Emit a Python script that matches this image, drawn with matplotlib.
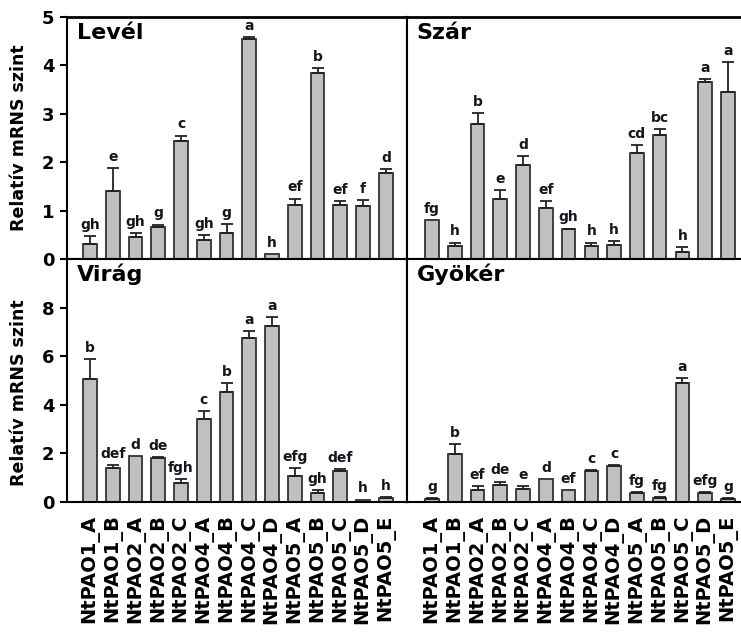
import numpy as np
import matplotlib
matplotlib.use("Agg")
import matplotlib.pyplot as plt

# gene names on the x axis
genes = ["NtPAO1_A", "NtPAO1_B", "NtPAO2_A", "NtPAO2_B", "NtPAO2_C",
         "NtPAO4_A", "NtPAO4_B", "NtPAO4_C", "NtPAO4_D", "NtPAO5_A",
         "NtPAO5_B", "NtPAO5_C", "NtPAO5_D", "NtPAO5_E"]

# leaf
level_vals = [0.30, 1.41, 0.46, 0.66, 2.44, 0.40, 0.54, 4.54, 0.10, 1.12, 3.85, 1.12, 1.09, 1.78]
level_err = [0.18, 0.47, 0.08, 0.05, 0.11, 0.10, 0.18, 0.05, 0.0, 0.13, 0.10, 0.08, 0.13, 0.075]
level_letters = ["gh", "e", "gh", "g", "c", "gh", "g", "a", "h", "ef", "b", "ef", "f", "d"]

# stem
szar_vals = [0.80, 0.26, 2.79, 1.25, 1.94, 1.06, 0.61, 0.26, 0.29, 2.20, 2.57, 0.15, 3.66, 3.45]
szar_err = [0.0, 0.08, 0.23, 0.18, 0.19, 0.13, 0.02, 0.08, 0.08, 0.16, 0.11, 0.09, 0.05, 0.62]
szar_letters = ["fg", "h", "b", "e", "d", "ef", "gh", "h", "h", "cd", "bc", "h", "a", "a"]

# flower
virag_vals = [5.06, 1.38, 1.89, 1.82, 0.79, 3.41, 4.54, 6.74, 7.26, 1.07, 0.38, 1.26, 0.10, 0.16]
virag_err = [0.82, 0.15, 0.0, 0.03, 0.15, 0.33, 0.36, 0.30, 0.36, 0.31, 0.10, 0.11, 0.0, 0.04]
virag_letters = ["b", "def", "d", "de", "fgh", "c", "b", "a", "a", "efg", "gh", "def", "h", "h"]

# root
gyoker_vals = [0.12, 1.96, 0.48, 0.68, 0.55, 0.96, 0.48, 1.26, 1.49, 0.38, 0.16, 4.88, 0.38, 0.11]
gyoker_err = [0.03, 0.41, 0.16, 0.16, 0.09, 0.0, 0.0, 0.04, 0.04, 0.03, 0.04, 0.22, 0.03, 0.04]
gyoker_letters = ["g", "b", "ef", "de", "e", "d", "ef", "c", "c", "fg", "fg", "a", "efg", "g"]

panels = [
    ("Levél", level_vals, level_err, level_letters),
    ("Szár", szar_vals, szar_err, szar_letters),
    ("Virág", virag_vals, virag_err, virag_letters),
    ("Gyökér", gyoker_vals, gyoker_err, gyoker_letters),
]

fig = plt.figure(figsize=(7.41, 6.32), dpi=100)

W, H = 741.0, 632.0
boxes = [
    [67 / W, (H - 259) / H, 340 / W, 242 / H],
    [407 / W, (H - 259) / H, 340 / W, 242 / H],
    [67 / W, (H - 502) / H, 340 / W, 243 / H],
    [407 / W, (H - 502) / H, 340 / W, 243 / H],
]

x = np.arange(len(genes))

for i, (title, vals, err, letters) in enumerate(panels):
    ax = fig.add_axes(boxes[i])
    vals = np.array(vals)
    err = np.array(err)

    ax.bar(x, vals, width=0.6, color="#c0c0c0", edgecolor="#333333", linewidth=1.3, zorder=2)

    has_err = err > 0
    ax.errorbar(x[has_err], vals[has_err],
                yerr=[np.zeros(has_err.sum()), err[has_err]],
                fmt="none", ecolor="#222222", elinewidth=1.3, capsize=4.5, capthick=1.3, zorder=3)

    for xi, v, e, lab in zip(x, vals, err, letters):
        ax.annotate(lab, (xi, v + e), xytext=(0, 3), textcoords="offset points",
                    ha="center", va="bottom", fontsize=10, fontweight="bold", color="#151520")

    top_row = i < 2
    left_col = i % 2 == 0

    if top_row:
        ax.set_ylim(0, 5)
        ax.set_yticks(range(0, 6))
    else:
        ax.set_ylim(0, 10)
        ax.set_yticks(range(0, 10, 2))

    if left_col:
        ax.set_xlim(-1.01, 13.93)
    else:
        ax.set_xlim(-1.1, 13.84)

    ax.set_xticks(x)
    if top_row:
        ax.tick_params(axis="x", length=0, labelbottom=False)
    else:
        ax.set_xticklabels(genes, rotation=90, fontsize=14, fontweight="bold")
        ax.tick_params(axis="x", length=0, pad=9)

    if left_col:
        ax.tick_params(axis="y", direction="out", length=5, width=1.5, pad=4, labelsize=13)
        for t in ax.get_yticklabels():
            t.set_fontweight("bold")
        ax.set_ylabel("Relatív mRNS szint", fontsize=12.5, fontweight="bold")
        ax.yaxis.set_label_coords(-0.115, 0.5 if top_row else 0.45)
    else:
        ax.tick_params(axis="y", left=False, labelleft=False)

    ax.text(0.028, 0.975 if top_row else 0.98, title, transform=ax.transAxes,
            ha="left", va="top", fontsize=16, fontweight="bold")

    for s in ax.spines.values():
        s.set_linewidth(1.5)
    ax.spines["top"].set_linewidth(2.0 if top_row else 1.5)
    if not left_col:
        ax.spines["right"].set_visible(False)

fig.savefig("out.png", dpi=100)
